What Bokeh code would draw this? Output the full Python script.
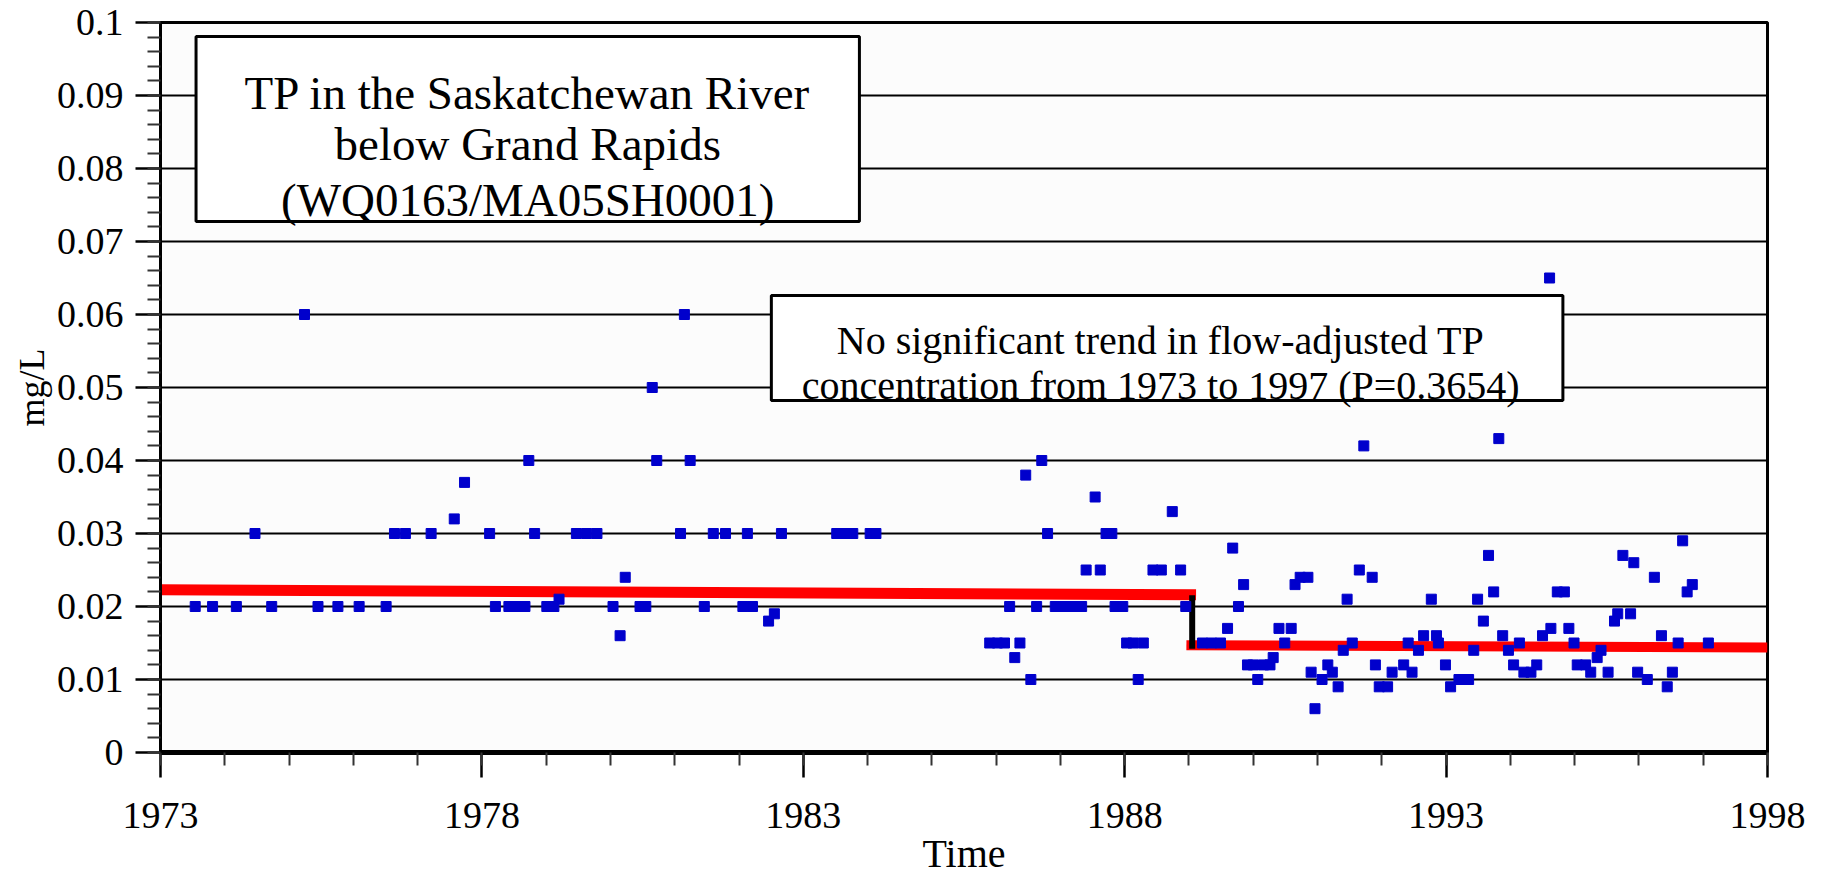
from bokeh.plotting import figure
from bokeh.models import (Range1d, SingleIntervalTicker, FixedTicker, CustomJSTickFormatter,
                          Label, ColumnDataSource)
from bokeh.embed import file_html
from bokeh.resources import INLINE

FONT = "Liberation Serif"

# ---- data ----
sample_year = [
    1973.54, 1973.81, 1974.18, 1974.47, 1974.73, 1975.24, 1975.45, 1975.76, 1976.09, 1976.51,
    1976.64, 1976.81, 1977.21, 1977.57, 1977.73, 1978.12, 1978.21, 1978.42, 1978.55, 1978.67,
    1978.73, 1978.82, 1979.01, 1979.12, 1979.20, 1979.47, 1979.63, 1979.79, 1980.04, 1980.15,
    1980.23, 1980.46, 1980.55, 1980.65, 1980.72, 1981.09, 1981.15, 1981.24, 1981.46, 1981.60,
    1981.79, 1982.06, 1982.13, 1982.21, 1982.46, 1982.55, 1982.66, 1983.52, 1983.65, 1983.77,
    1984.04, 1984.13,
    1985.90, 1986.02, 1986.13, 1986.21, 1986.29, 1986.37, 1986.46, 1986.54, 1986.63, 1986.71,
    1986.80, 1986.92, 1987.02, 1987.12, 1987.22, 1987.33, 1987.40, 1987.54, 1987.62, 1987.71,
    1987.80, 1987.85, 1987.97, 1988.03, 1988.13, 1988.21, 1988.29, 1988.44, 1988.57, 1988.74,
    1988.87, 1988.95,
    1989.21, 1989.35, 1989.49, 1989.60, 1989.68, 1989.77, 1989.85, 1989.91, 1990.00, 1990.07,
    1990.16, 1990.26, 1990.31, 1990.40, 1990.49, 1990.59, 1990.65, 1990.73, 1990.85, 1990.90,
    1990.96, 1991.07, 1991.16, 1991.23, 1991.32, 1991.40, 1991.46, 1991.54, 1991.65, 1991.72,
    1991.85, 1991.90, 1991.96, 1992.09, 1992.16, 1992.34, 1992.41, 1992.47, 1992.57, 1992.65,
    1992.77, 1992.85, 1992.88, 1992.99, 1993.07, 1993.20, 1993.35, 1993.43, 1993.49, 1993.58,
    1993.66, 1993.74, 1993.82, 1993.88, 1993.97, 1994.05, 1994.14, 1994.21, 1994.32, 1994.41,
    1994.50, 1994.61, 1994.63, 1994.73, 1994.84, 1994.91, 1994.99, 1995.04, 1995.17, 1995.25,
    1995.35, 1995.41, 1995.52, 1995.62, 1995.67, 1995.75, 1995.87, 1995.92, 1995.98, 1996.13,
    1996.24, 1996.35, 1996.44, 1996.52, 1996.61, 1996.68, 1996.75, 1996.83, 1997.08,
]
tp_mg_l = [
    0.020, 0.020, 0.020, 0.030, 0.020, 0.060, 0.020, 0.020, 0.020, 0.020,
    0.030, 0.030, 0.030, 0.032, 0.037, 0.030, 0.020, 0.020, 0.020, 0.020,
    0.040, 0.030, 0.020, 0.020, 0.021, 0.030, 0.030, 0.030, 0.020, 0.016,
    0.024, 0.020, 0.020, 0.050, 0.040, 0.030, 0.060, 0.040, 0.020, 0.030,
    0.030, 0.020, 0.030, 0.020, 0.018, 0.019, 0.030, 0.030, 0.030, 0.030,
    0.030, 0.030,
    0.015, 0.015, 0.015, 0.020, 0.013, 0.015, 0.038, 0.010, 0.020, 0.040,
    0.030, 0.020, 0.020, 0.020, 0.020, 0.020, 0.025, 0.035, 0.025, 0.030,
    0.030, 0.020, 0.020, 0.015, 0.015, 0.010, 0.015, 0.025, 0.025, 0.033,
    0.025, 0.020,
    0.015, 0.015, 0.015, 0.017, 0.028, 0.020, 0.023, 0.012, 0.012, 0.010,
    0.012, 0.012, 0.013, 0.017, 0.015, 0.017, 0.023, 0.024, 0.024, 0.011,
    0.006, 0.010, 0.012, 0.011, 0.009, 0.014, 0.021, 0.015, 0.025, 0.042,
    0.024, 0.012, 0.009, 0.009, 0.011, 0.012, 0.015, 0.011, 0.014, 0.016,
    0.021, 0.016, 0.015, 0.012, 0.009, 0.010, 0.010, 0.014, 0.021, 0.018,
    0.027, 0.022, 0.043, 0.016, 0.014, 0.012, 0.015, 0.011, 0.011, 0.012,
    0.016, 0.065, 0.017, 0.022, 0.022, 0.017, 0.015, 0.012, 0.012, 0.011,
    0.013, 0.014, 0.011, 0.018, 0.019, 0.027, 0.019, 0.026, 0.011, 0.010,
    0.024, 0.016, 0.009, 0.011, 0.015, 0.029, 0.022, 0.023, 0.015,
]

trend1_year = [1973.0, 1989.11]
trend1_tp = [0.0223, 0.0216]
trend2_year = [1988.96, 1998.0]
trend2_tp = [0.0147, 0.0144]
step_year = [1989.05, 1989.05]
step_tp = [0.02155, 0.0142]

x_major_ticks = [1973, 1978, 1983, 1988, 1993, 1998]
x_minor_ticks = list(range(1973, 1999))

title_lines = ["TP in the Saskatchewan River", "below Grand Rapids", "(WQ0163/MA05SH0001)"]
note_lines = ["No significant trend in flow-adjusted TP",
              "concentration from 1973 to 1997 (P=0.3654)"]
x_title = "Time"
y_title = "mg/L"

# ---- figure ----
p = figure(width=1821, height=888, output_backend="svg", toolbar_location=None,
           x_range=Range1d(1973, 1998), y_range=Range1d(0, 0.1),
           min_border_left=160, min_border_right=54, min_border_top=22,
           min_border_bottom=136, x_axis_label=x_title, y_axis_label=y_title)

p.background_fill_color = "#fcfcfc"
p.border_fill_color = "white"
p.outline_line_color = "black"
p.outline_line_width = 3

# axes
p.xaxis.ticker = FixedTicker(ticks=x_major_ticks, minor_ticks=x_minor_ticks)
p.yaxis.ticker = SingleIntervalTicker(interval=0.01, num_minor_ticks=5)
p.xaxis.formatter = CustomJSTickFormatter(code="return tick.toFixed(0);")
p.yaxis.formatter = CustomJSTickFormatter(code="return (Math.round(tick*100)/100).toString();")

p.axis.major_tick_out = 25
p.axis.major_tick_in = 0
p.axis.minor_tick_out = 13
p.axis.minor_tick_in = 0
p.axis.major_tick_line_color = "black"
p.axis.major_tick_line_width = 2.5
p.axis.minor_tick_line_color = "#333333"
p.axis.minor_tick_line_width = 2
p.axis.axis_line_color = "black"
p.axis.major_label_text_font = FONT
p.axis.major_label_text_font_size = "38px"
p.axis.major_label_text_color = "black"
p.axis.axis_label_text_font = FONT
p.axis.axis_label_text_font_style = "normal"
p.axis.axis_label_text_color = "black"

p.xaxis.axis_line_width = 5
p.yaxis.axis_line_width = 3
p.xaxis.major_label_standoff = 25
p.yaxis.major_label_standoff = 12
p.xaxis.axis_label_text_font_size = "40px"
p.yaxis.axis_label_text_font_size = "36px"
p.xaxis.axis_label_standoff = 0
p.yaxis.axis_label_standoff = 2

p.xgrid.visible = False
p.ygrid.ticker = SingleIntervalTicker(interval=0.01)
p.ygrid.grid_line_color = "black"
p.ygrid.grid_line_width = 2

# trend lines
p.line(trend1_year, trend1_tp, line_color="#ff0000", line_width=11)
p.line(trend2_year, trend2_tp, line_color="#ff0000", line_width=10)
p.line(step_year, step_tp, line_color="black", line_width=6)

# samples
src = ColumnDataSource(dict(year=sample_year, tp=tp_mg_l))
p.scatter("year", "tp", source=src, marker="square", size=10,
          fill_color="#0000cc", line_color="#0000cc")

# text boxes
p.quad(left=[1973.553], right=[1983.873], top=[0.09808], bottom=[0.07274],
       fill_color="white", line_color="black", line_width=3)
p.quad(left=[1982.503], right=[1994.817], top=[0.0626], bottom=[0.04822],
       fill_color="white", line_color="black", line_width=3)

for txt, yb in zip(title_lines, [0.09041, 0.08329, 0.07575]):
    p.add_layout(Label(x=1978.713, y=yb, text=txt, text_align="center",
                       text_baseline="alphabetic", text_font=FONT,
                       text_font_size="47px", text_color="black"))
for txt, yb in zip(note_lines, [0.05644, 0.05027]):
    p.add_layout(Label(x=1988.559, y=yb, text=txt, text_align="center",
                       text_baseline="alphabetic", text_font=FONT,
                       text_font_size="40px", text_color="black"))

open("out.html", "w").write(file_html(p, INLINE))
